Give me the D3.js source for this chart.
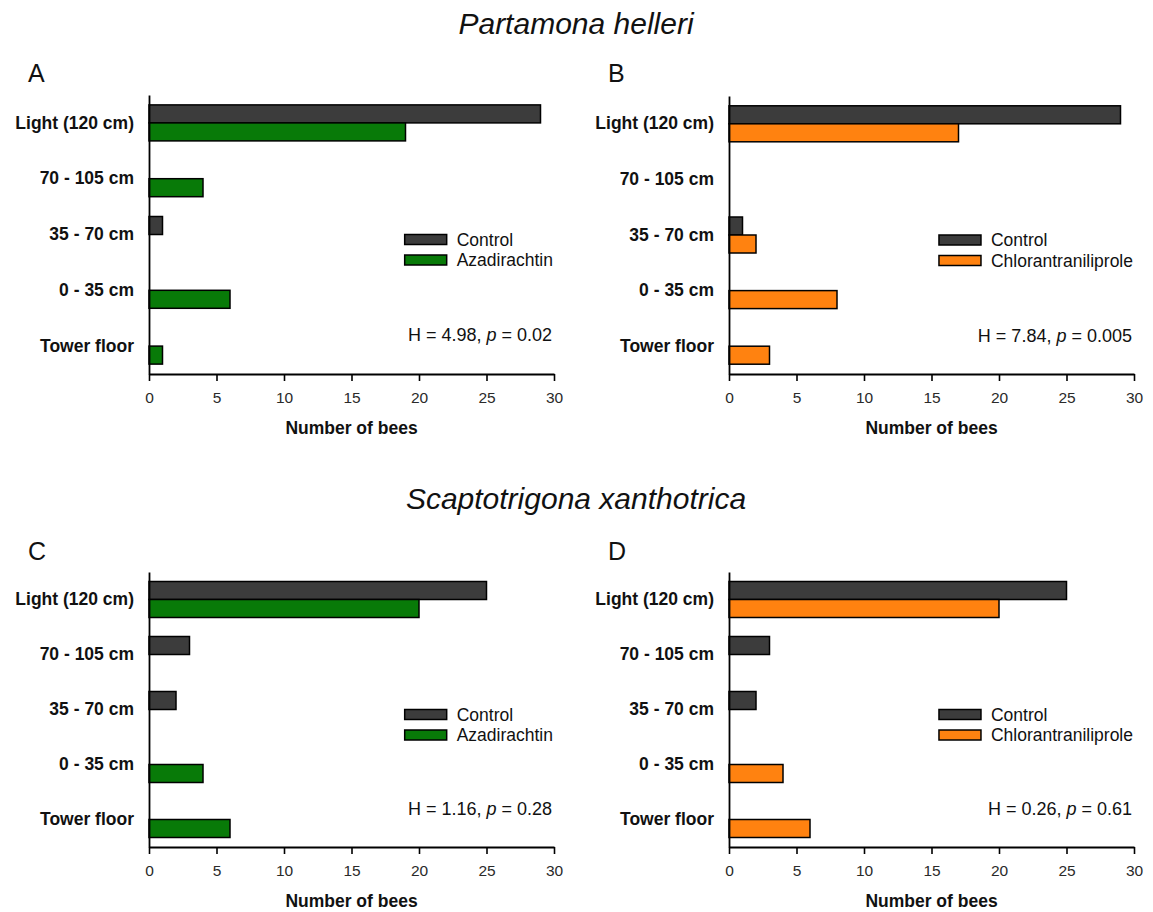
<!DOCTYPE html>
<html>
<head>
<meta charset="utf-8">
<script src="https://cdn.jsdelivr.net/npm/d3@7/dist/d3.min.js"></script>
<style>
  html, body { margin: 0; padding: 0; background: #fff; }
  svg { display: block; font-family: "Liberation Sans", Arial, sans-serif; }
</style>
</head>
<body>
<svg id="chart" width="1153" height="912"></svg>
<script>
// Height classes where bees were recorded
const categories = ["Light (120 cm)", "70 - 105 cm", "35 - 70 cm", "0 - 35 cm", "Tower floor"];

// Number of bees per height class
const controlA = [29, 0, 1, 0, 0];
const azadirachtinA = [19, 4, 0, 6, 1];
const controlB = [29, 0, 1, 0, 0];
const chlorantraniliproleB = [17, 0, 2, 8, 3];
const controlC = [25, 3, 2, 0, 0];
const azadirachtinC = [20, 0, 0, 4, 6];
const controlD = [25, 3, 2, 0, 0];
const chlorantraniliproleD = [20, 0, 0, 4, 6];

const xTicks = [0, 5, 10, 15, 20, 25, 30];
const speciesTitles = ["Partamona helleri", "Scaptotrigona xanthotrica"];
const panelLetters = ["A", "B", "C", "D"];
const treatmentNames = ["Azadirachtin", "Chlorantraniliprole", "Azadirachtin", "Chlorantraniliprole"];
const statH = ["4.98", "7.84", "1.16", "0.26"];
const statP = ["0.02", "0.005", "0.28", "0.61"];

const COLORS = { control: "#3c3c3c", Azadirachtin: "#087a08", Chlorantraniliprole: "#ff8210" };

const svg = d3.select("#chart");
svg.append("rect").attr("width", 1153).attr("height", 912).attr("fill", "#fff");

const panels = [
  { control: controlA, treat: azadirachtinA, x0: 149, top: 95, bottom: 374 },
  { control: controlB, treat: chlorantraniliproleB, x0: 729, top: 96, bottom: 374 },
  { control: controlC, treat: azadirachtinC, x0: 149, top: 572, bottom: 847 },
  { control: controlD, treat: chlorantraniliproleD, x0: 729, top: 572, bottom: 847 }
];

// Species titles above each row
[[34, speciesTitles[0]], [509, speciesTitles[1]]].forEach(([y, t]) => {
  svg.append("text")
    .attr("x", 576).attr("y", y)
    .attr("text-anchor", "middle")
    .attr("font-size", 30).attr("font-style", "italic")
    .attr("fill", "#111")
    .text(t);
});

panels.forEach((p, i) => {
  const treatName = treatmentNames[i];
  const g = svg.append("g");

  const x = d3.scaleLinear().domain([0, 30]).range([p.x0, p.x0 + 405]);
  const y = d3.scaleBand().domain(categories).range([p.top, p.bottom]).padding(0);
  const barH = 18;
  const ySeries = d3.scaleBand().domain(["control", "treat"])
    .range([y.bandwidth() / 2 - barH, y.bandwidth() / 2 + barH]).padding(0);

  // Panel letter
  g.append("text")
    .attr("x", p.x0 - 121).attr("y", p.top < 300 ? 82 : 560)
    .attr("font-size", 25).attr("fill", "#111")
    .text(panelLetters[i]);

  // Bars
  const rows = [];
  categories.forEach((c, k) => {
    rows.push({ cat: c, series: "control", value: p.control[k], color: COLORS.control });
    rows.push({ cat: c, series: "treat", value: p.treat[k], color: COLORS[treatName] });
  });
  g.selectAll("rect.bar")
    .data(rows.filter(d => d.value > 0))
    .join("rect")
    .attr("class", "bar")
    .attr("x", x(0))
    .attr("y", d => y(d.cat) + ySeries(d.series))
    .attr("width", d => x(d.value) - x(0))
    .attr("height", ySeries.bandwidth())
    .attr("fill", d => d.color)
    .attr("stroke", "#000")
    .attr("stroke-width", 1.5);

  // X axis
  const xAxis = g.append("g")
    .attr("transform", `translate(0,${p.bottom})`)
    .call(d3.axisBottom(x).tickValues(xTicks).tickSize(7).tickSizeOuter(0).tickPadding(11));
  xAxis.select(".domain").attr("stroke", "#000").attr("stroke-width", 1.8);
  xAxis.selectAll(".tick line").attr("stroke", "#000").attr("stroke-width", 1.6);
  xAxis.selectAll(".tick text")
    .attr("font-size", 15.5).attr("fill", "#2a2a2a")
    .attr("font-family", "Liberation Sans, Arial, sans-serif");

  // Y axis with category labels
  const yAxis = g.append("g")
    .attr("transform", `translate(${x(0)},0)`)
    .call(d3.axisLeft(y).tickSize(0).tickSizeOuter(0).tickPadding(15));
  yAxis.select(".domain").attr("stroke", "#000").attr("stroke-width", 1.8);
  yAxis.selectAll(".tick text")
    .attr("font-size", 17.5).attr("font-weight", "bold").attr("fill", "#111")
    .attr("font-family", "Liberation Sans, Arial, sans-serif");

  // X axis title
  g.append("text")
    .attr("x", (x(0) + x(30)) / 2).attr("y", p.bottom + 54)
    .attr("dy", "0.35em")
    .attr("text-anchor", "middle")
    .attr("font-size", 17.5).attr("font-weight", "bold").attr("fill", "#111")
    .text("Number of bees");

  // Legend, right-aligned to the end of the x axis
  const legendY = y("35 - 70 cm") + y.bandwidth() / 2 + 5;
  const legend = g.append("g");
  const items = [["Control", COLORS.control], [treatName, COLORS[treatName]]];
  const texts = legend.selectAll("text")
    .data(items)
    .join("text")
    .attr("y", (d, k) => legendY + k * 20.5)
    .attr("dy", "0.35em")
    .attr("font-size", 17.5).attr("fill", "#111")
    .text(d => d[0]);
  const maxW = d3.max(texts.nodes(), n => n.getComputedTextLength());
  const textX = x(30) - 1 - maxW;
  texts.attr("x", textX);
  legend.selectAll("rect")
    .data(items)
    .join("rect")
    .attr("x", textX - 52)
    .attr("y", (d, k) => legendY + k * 20.5 - 5)
    .attr("width", 42).attr("height", 10)
    .attr("fill", d => d[1])
    .attr("stroke", "#000").attr("stroke-width", 1.5);

  // Kruskal-Wallis statistic
  const stat = g.append("text")
    .attr("x", x(30) - 2)
    .attr("y", y("Tower floor") + y.bandwidth() / 2 - 11)
    .attr("dy", "0.35em")
    .attr("text-anchor", "end")
    .attr("font-size", 18).attr("fill", "#111");
  stat.append("tspan").text(`H = ${statH[i]}, `);
  stat.append("tspan").attr("font-style", "italic").text("p");
  stat.append("tspan").text(` = ${statP[i]}`);
});
</script>
</body>
</html>
